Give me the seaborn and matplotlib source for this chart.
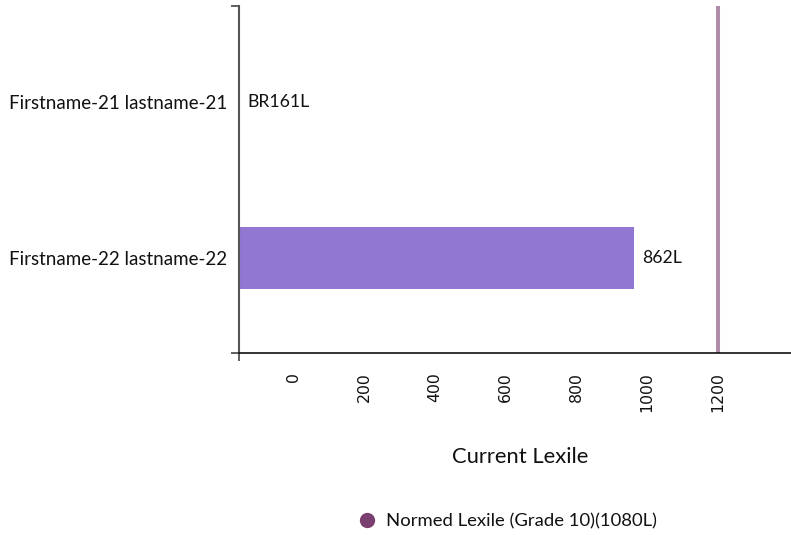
import matplotlib
matplotlib.use("Agg")
import matplotlib.pyplot as plt
from matplotlib.lines import Line2D
import seaborn as sns
import pandas as pd

# Chart data
students = ["Firstname-21 lastname-21", "Firstname-22 lastname-22"]
lexile = [-161, 862]
lexile_labels = ["BR161L", "862L"]
normed_lexile = 1080
normed_label = "Normed Lexile (Grade 10)(1080L)"
tick_values = [0, 200, 400, 600, 800, 1000, 1200]

# Style
sns.set_theme(style="white")
plt.rcParams['font.family'] = ['Lato', 'DejaVu Sans']

fig = plt.figure(figsize=(7.91, 5.35), dpi=100)
ax = fig.add_axes([238.7 / 791, 1 - 353 / 535, (791 - 238.7) / 791, 347 / 535])

df = pd.DataFrame({"student": students, "lexile": lexile})
sns.barplot(data=df, x="lexile", y="student", color="#9176d2", width=0.4,
            saturation=1, ax=ax)

# bars start at the left end of the scale (lowest lexile), not at zero
floor = min(lexile)
for patch, v in zip(ax.patches, lexile):
    patch.set_x(floor)
    patch.set_width(v - floor)
    patch.set_linewidth(0)

ax.axvline(normed_lexile, color="#7a3f6e", alpha=0.6, lw=2.9)

ax.set_xlim(floor, 1270)
ax.set_ylim(1.61, -0.615)

# Value labels
for i, (v, txt) in enumerate(zip(lexile, lexile_labels)):
    ax.annotate(txt, xy=(v, i), xytext=(6.5, 0), textcoords="offset points",
                va="center", ha="left", fontsize=12.7, color="#111111")

# Axis styling
ax.set_xlabel("")
ax.set_ylabel("")
ax.set_xticks([])
ax.set_xticks([floor], minor=True)
ax.set_yticks(range(len(students)), labels=students)
ax.set_yticks(list(ax.get_ylim()), minor=True)
ax.tick_params(axis="y", which="major", length=0, pad=8.5, labelsize=13.5,
               labelcolor="#111111")
ax.tick_params(axis="both", which="minor", length=5.8, width=1.2,
               color="#444444", direction="out", left=True, bottom=True,
               labelleft=False, labelbottom=False)
for s in ["top", "right"]:
    ax.spines[s].set_visible(False)
ax.spines["left"].set_color("#555555")
ax.spines["left"].set_linewidth(1.5)
ax.spines["bottom"].set_color("#111111")
ax.spines["bottom"].set_linewidth(1.2)

# Tick labels drawn on their own scale
lab = ax.twiny()
lab.set_xlim(-154, 1407)
lab.xaxis.set_ticks_position("bottom")
lab.xaxis.set_label_position("bottom")
lab.set_xticks(tick_values, labels=[str(t) for t in tick_values])
lab.tick_params(axis="x", length=0, pad=13.5, labelrotation=90, labelsize=11.3,
                labelcolor="#111111", labelfontfamily="DejaVu Sans")
for s in lab.spines.values():
    s.set_visible(False)
lab.set_xlabel("Current Lexile", fontsize=15.8, color="#111111")
lab.xaxis.set_label_coords(0.509, -0.2997)
lab.xaxis.label.set_va("center")

# Legend
handle = Line2D([], [], marker="o", color="#7a3f6e", ls="", markersize=10)
fig.legend([handle], [normed_label], loc="center",
           bbox_to_anchor=(503 / 791, 1 - 521 / 535), frameon=False,
           fontsize=13.3, handletextpad=0.05, labelcolor="#111111")

fig.canvas.draw()
for t in lab.get_xticklabels():
    t.set_fontfamily("DejaVu Sans")

fig.savefig("out.png", dpi=100)
